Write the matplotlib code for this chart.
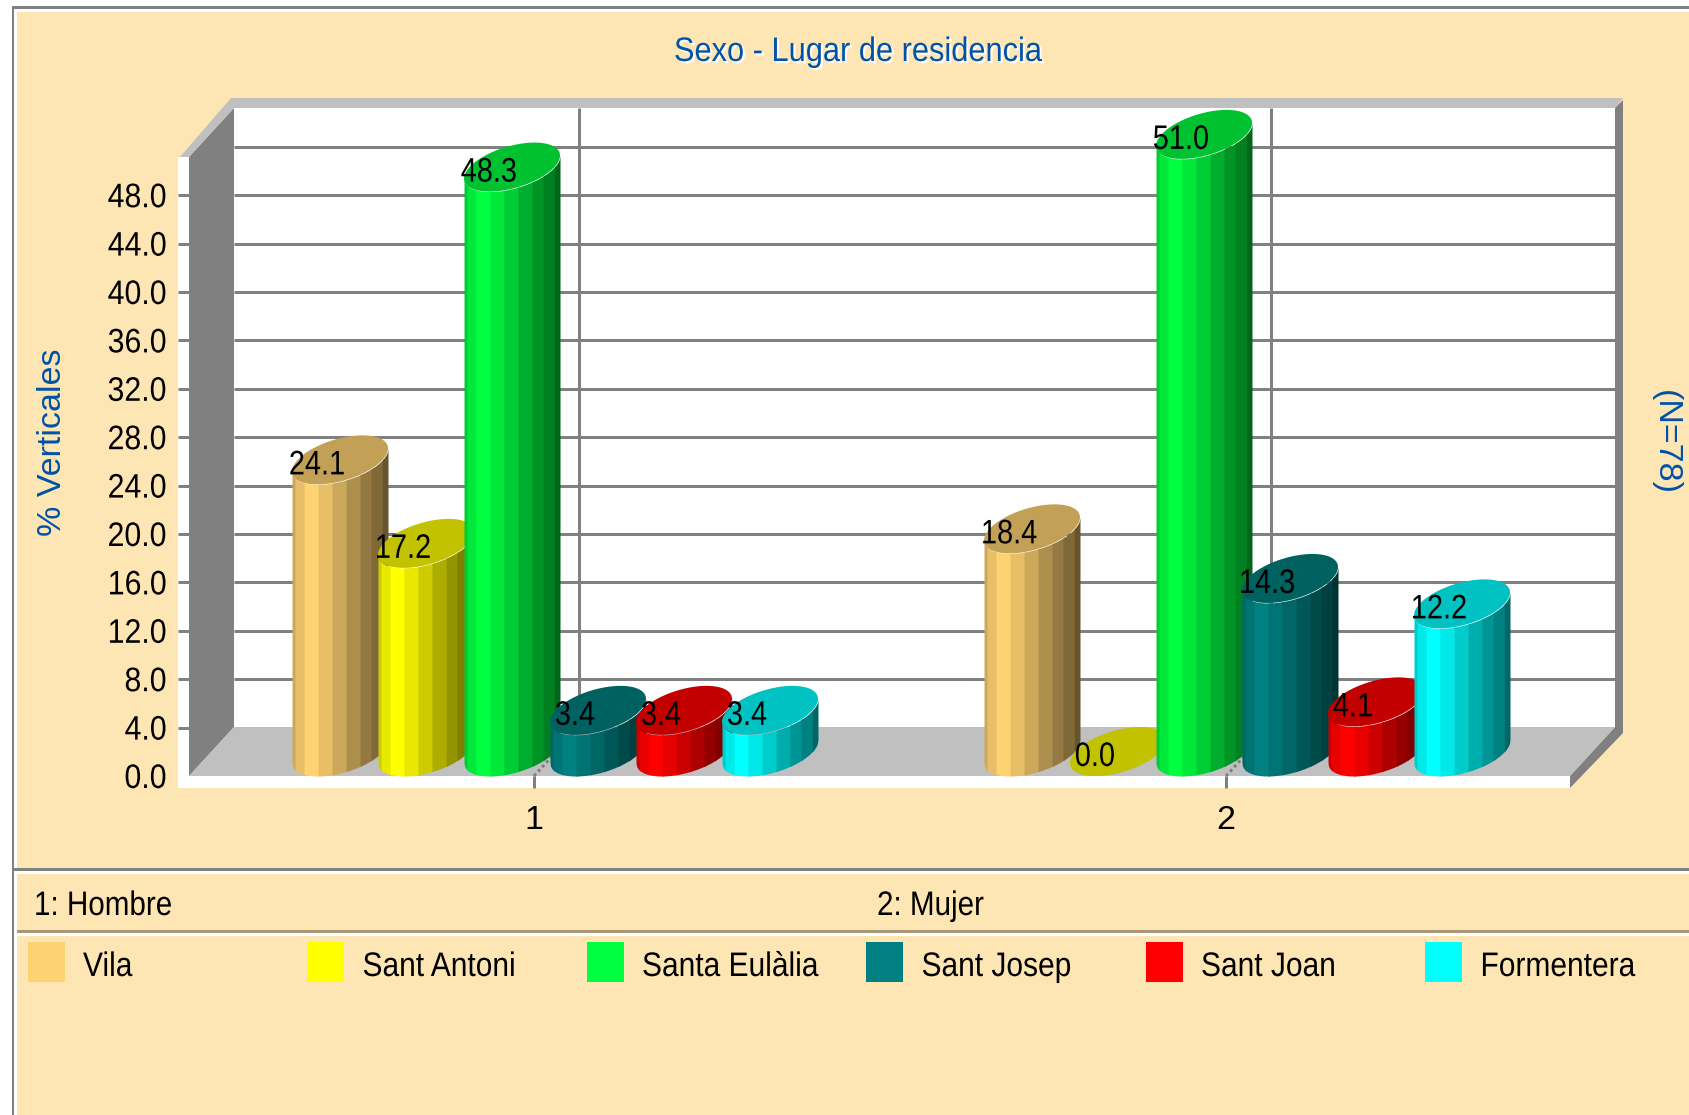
"""Sexo - Lugar de residencia: pseudo 3D cylinder chart."""

import matplotlib

matplotlib.use("Agg")
import matplotlib.pyplot as plt
import numpy as np
from matplotlib.patches import Polygon, Rectangle
from matplotlib.patheffects import AbstractPathEffect
from matplotlib.transforms import Affine2D

groups = [1, 2]
group_names = ["1: Hombre", "2: Mujer"]
series_names = ["Vila", "Sant Antoni", "Santa Eulàlia", "Sant Josep", "Sant Joan", "Formentera"]
series_colors = ["#FFD271", "#FFFF00", "#00FF40", "#008080", "#FF0000", "#00FFFF"]
hombre = [24.1, 17.2, 48.3, 3.4, 3.4, 3.4]
mujer = [18.4, 0.0, 51.0, 14.3, 4.1, 12.2]
y_ticks = [0, 4, 8, 12, 16, 20, 24, 28, 32, 36, 40, 44, 48]
grid_values = [8, 12, 16, 20, 24, 28, 32, 36, 40, 44, 48, 52]

W, H = 1690, 1115
BG = "#FEE6B4"
GREY = "#808080"
LIGHT = "#C0C0C0"
BLUE = "#0052A8"

# layout in pixels of the reference
GROUP_PX = 692
UNIT_PX = 12.1
TICK1_PX = 534
ZERO_PX = 776
BAR_START = -242
BAR_STEP = 86
DEPTH_X, DEPTH_Y = 45, 49
HALF_W = 42.4
STRIPES = [0, 3, 12, 26, 40, 54, 68, 79, 90.3, 96]
SHADES = [0.8, 0.91, 1.0, 0.91, 0.8, 0.68, 0.58, 0.5, 0.4]
TOP_SHADE = 0.76

plt.rcParams["font.family"] = ["Liberation Sans", "DejaVu Sans"]
FONT = 24.5


class Condensed(AbstractPathEffect):
    """Squeeze a text horizontally, keeping it real text."""

    def __init__(self, factor, anchor="left", offset=(0, 0), color=None):
        super().__init__(offset)
        self.factor = factor
        self.anchor = anchor
        self.color = color

    def draw_path(self, renderer, gc, tpath, affine, rgbFace=None):
        box = tpath.get_extents()
        pivot = {"left": 0, "center": (box.x0 + box.x1) / 2, "right": box.x1}[self.anchor]
        squeeze = Affine2D().translate(-pivot, 0).scale(self.factor, 1).translate(pivot, 0)
        final = squeeze + affine + self._offset_transform(renderer)
        face = self.color if self.color else rgbFace
        renderer.draw_path(gc, tpath, final, matplotlib.colors.to_rgba(face))


fig = plt.figure(figsize=(W / 100, H / 100), dpi=100, facecolor="white")

# background layer uses pixel coordinates
bg = fig.add_axes([0, 0, 1, 1], zorder=0)
bg.set_xlim(0, W)
bg.set_ylim(H, 0)
bg.axis("off")

bg.add_patch(Rectangle((12, 6), W, H, fc=GREY, lw=0))
bg.add_patch(Rectangle((14, 9), W, H, fc="white", lw=0))
bg.add_patch(Rectangle((17, 12), W, H, fc=BG, lw=0))
bg.add_patch(Rectangle((14, 868), W, 3, fc=GREY, lw=0))
bg.add_patch(Rectangle((14, 871), W, 3, fc="white", lw=0))
bg.add_patch(Rectangle((17, 930), W, 3, fc="#A89878", lw=0))
bg.add_patch(Rectangle((17, 933), W, 3, fc="white", lw=0))

# walls, floor and edges of the 3D box
bg.add_patch(Rectangle((178, 157), 11, 631, fc="white", lw=0))
bg.add_patch(Rectangle((178, 776), 1392, 12, fc="white", lw=0))
bg.add_patch(Rectangle((234, 108), 1381, 619, fc="white", lw=0))
bg.add_patch(Polygon([(189, 157), (234, 108), (234, 727), (189, 776)], fc=GREY, lw=0))
bg.add_patch(Polygon([(180, 157), (231, 98), (1623, 98), (1615, 108), (234, 108), (189, 157)], fc=LIGHT, lw=0))
bg.add_patch(Polygon([(1615, 108), (1623, 100), (1623, 733), (1570, 788), (1570, 776), (1615, 727)], fc=GREY, lw=0))

# chart layer: x in group units, y in percent
left_px, right_px, top_px, bottom_px = 178, 1623, 98, 788
ax = fig.add_axes(
    [left_px / W, 1 - bottom_px / H, (right_px - left_px) / W, (bottom_px - top_px) / H],
    zorder=1,
)
ax.patch.set_alpha(0)
ax.set_xlim(1 + (left_px - TICK1_PX) / GROUP_PX, 1 + (right_px - TICK1_PX) / GROUP_PX)
ax.set_ylim((ZERO_PX - bottom_px) / UNIT_PX, (ZERO_PX - top_px) / UNIT_PX)
for spine in ax.spines.values():
    spine.set_visible(False)


def dx(px):
    return px / GROUP_PX


def dy(px):
    return px / UNIT_PX


wall_left = 1 + dx(234 - TICK1_PX)
wall_right = 1 + dx(1615 - TICK1_PX)
ax.hlines(grid_values, wall_left, wall_right, colors=GREY, lw=2.16, zorder=1)
for g in groups:
    ax.vlines(g + dx(DEPTH_X), dy(DEPTH_Y), dy(ZERO_PX - 108), colors=GREY, lw=2.16, zorder=1)

# floor goes over the lowest grid line
floor = Polygon(
    [
        (1 + dx(189 - TICK1_PX), 0),
        (wall_left, dy(DEPTH_Y)),
        (wall_right, dy(DEPTH_Y)),
        (1 + dx(1570 - TICK1_PX), 0),
    ],
    fc=LIGHT,
    lw=0,
    zorder=1.5,
)
ax.add_patch(floor)
for g in groups:
    ax.plot([g, g + dx(DEPTH_X)], [0, dy(DEPTH_Y)], color=GREY, lw=2.16, ls=(0, (1, 1)), zorder=1.6)

ax.set_yticks(y_ticks)
ax.set_yticklabels([f"{v:.1f}" for v in y_ticks], fontsize=FONT)
ax.set_xticks(groups)
ax.set_xticklabels(["1", "2"], fontsize=FONT)
ax.tick_params(axis="y", direction="in", length=7.9, width=2.16, color=GREY, pad=8)
ax.tick_params(axis="x", direction="in", length=8.6, width=2.16, color=GREY, pad=12)
ax.yaxis.get_major_ticks()[0].tick1line.set_visible(False)
for label in ax.get_yticklabels():
    label.set_path_effects([Condensed(0.89, "right")])


def shade(color, factor):
    rgb = np.array(matplotlib.colors.to_rgb(color))
    return tuple(rgb * factor)


# sheared ellipse, in pixels around its centre
t = np.linspace(0, 2 * np.pi, 361)[:-1]
ell_x = HALF_W * np.cos(t) + DEPTH_X / 2 * np.sin(t)
ell_y = DEPTH_Y / 2 * np.sin(t)
order = np.roll(np.arange(360), -int(np.argmin(ell_x)))
steps = int(np.where(order == np.argmax(ell_x))[0][0]) + 1
arc_x = ell_x[order[:steps]]
arc_y = ell_y[order[:steps]]
half_w = ell_x.max()


def draw_cylinder(x_left, value, color):
    centre = x_left + dx(half_w)
    base = dy(DEPTH_Y / 2)
    if value > 0:
        for i, factor in enumerate(SHADES):
            # each stripe runs a little under the next one so no seam shows
            end = STRIPES[i + 1] + (1.5 if i < len(SHADES) - 1 else 0)
            px = np.linspace(STRIPES[i], end, 10)
            front = np.interp(px - half_w, arc_x, arc_y)
            ax.fill_between(
                x_left + dx(px),
                base + dy(front),
                value + base + dy(front),
                color=shade(color, factor),
                lw=0,
                antialiased=False,
                zorder=3,
            )
    ax.fill(
        centre + dx(ell_x),
        value + base + dy(ell_y),
        color=shade(color, TOP_SHADE),
        lw=0,
        zorder=3,
    )


for g, values in zip(groups, [hombre, mujer]):
    for i, value in enumerate(values):
        x_left = g + dx(BAR_START + i * BAR_STEP)
        draw_cylinder(x_left, value, series_colors[i])
        ax.text(
            x_left + dx(25),
            value + dy(10),
            f"{value:.1f}",
            fontsize=FONT,
            ha="center",
            va="baseline",
            zorder=5,
            path_effects=[Condensed(0.85, "center")],
        )

# titles
bg.text(
    858,
    61,
    "Sexo - Lugar de residencia",
    color=BLUE,
    fontsize=FONT,
    ha="center",
    va="baseline",
    path_effects=[
        Condensed(0.905, "center", offset=(1.5, -1.5), color="white"),
        Condensed(0.905, "center"),
    ],
)
bg.text(53, 442, "% Verticales", color=BLUE, fontsize=FONT, rotation=90, ha="center", va="center")
bg.text(1665, 443, "(N=78)", color=BLUE, fontsize=FONT, rotation=-90, ha="center", va="center")

# key to the groups
for name, x in zip(group_names, [34, 877]):
    bg.text(x, 915, name, fontsize=FONT, ha="left", va="baseline", path_effects=[Condensed(0.87)])

# key to the series
for i, (name, color) in enumerate(zip(series_names, series_colors)):
    bg.add_patch(Rectangle((28 + 279.5 * i, 942), 37, 40, fc=color, lw=0))
    bg.text(83 + 279.5 * i, 976, name, fontsize=FONT, ha="left", va="baseline", path_effects=[Condensed(0.88)])

fig.savefig("out.png", dpi=100)
plt.close(fig)
